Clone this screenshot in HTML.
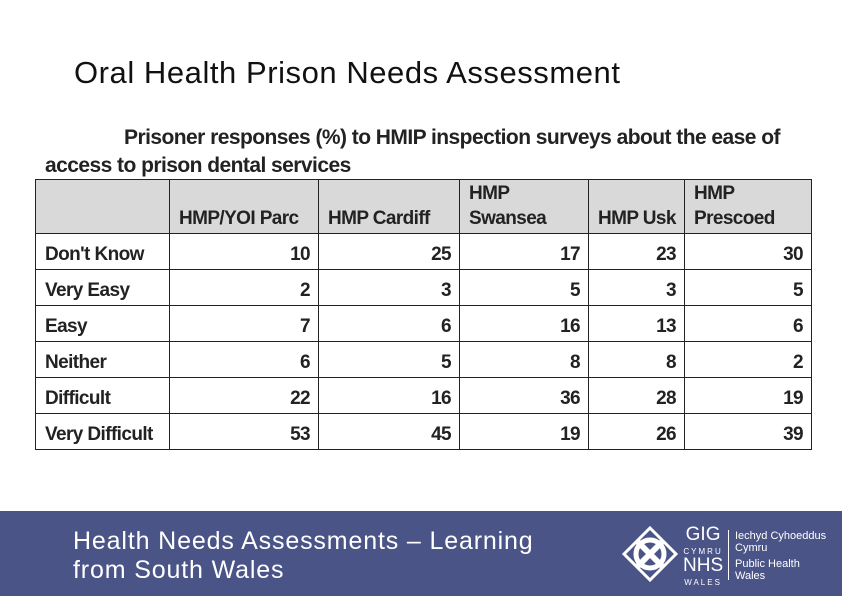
<!DOCTYPE html>
<html><head><meta charset="utf-8"><style>
body{margin:0;width:842px;height:596px;position:relative;background:#fff;overflow:hidden;font-family:"Liberation Sans",sans-serif}
.t{position:absolute;white-space:nowrap}
.cell{position:absolute;box-sizing:border-box;font-weight:bold;font-size:19px;color:#222;letter-spacing:-0.6px}
</style></head><body>
<div class="t" style="left:74px;top:55px;font-size:31px;color:#111;letter-spacing:0.55px">Oral Health Prison Needs Assessment</div>
<div class="t" style="left:45px;top:124px;font-size:21px;font-weight:bold;color:#222;line-height:28px;letter-spacing:-0.55px"><span style="padding-left:79px">Prisoner responses (%) to HMIP inspection surveys about the ease of</span><br>access to prison dental services</div>
<div id="tbl" style="position:absolute;left:0;top:0"></div>
<div style="position:absolute;left:0;top:511px;width:842px;height:85px;background:#4a5487"></div>
<div class="t" style="left:73px;top:527px;font-size:25px;color:#fff;line-height:29px;letter-spacing:0.85px">Health Needs Assessments – Learning<br>from South Wales</div>
<svg style="position:absolute;left:622px;top:526px" width="56" height="56" viewBox="0 0 56 56"><g fill="none" stroke="#fff" stroke-width="5"><circle cx="28" cy="28" r="14"/><path d="M28 2 L40 14 L28 26 L16 14Z M54 28 L42 40 L30 28 L42 16Z M28 54 L16 42 L28 30 L40 42Z M2 28 L14 16 L26 28 L14 40Z" stroke-width="3"/></g></svg>
<div class="t" style="left:683px;top:528px;color:#fff;font-size:19px;line-height:14px;text-align:center">GIG<br><span style="font-size:8px;letter-spacing:2px">CYMRU</span><br>NHS<br><span style="font-size:8px;letter-spacing:2px">WALES</span></div>
<div style="position:absolute;left:728px;top:530px;width:1px;height:50px;background:#fff"></div>
<div class="t" style="left:735px;top:530px;color:#fff;font-size:11px;line-height:12px">Iechyd Cyhoeddus<br>Cymru<br><span style="display:inline-block;margin-top:4px">Public Health</span><br>Wales</div>
<script>
const columns=["HMP/YOI Parc","HMP Cardiff","HMP\nSwansea","HMP Usk","HMP\nPrescoed"];
const categories=["Don't Know","Very Easy","Easy","Neither","Difficult","Very Difficult"];
const parc=[10,2,7,6,22,53];
const cardiff=[25,3,6,5,16,45];
const swansea=[17,5,16,8,36,19];
const usk=[23,3,13,8,28,26];
const prescoed=[30,5,6,2,19,39];
const series=[parc,cardiff,swansea,usk,prescoed];
const xs=[35,169,318,459,588,684,811];
const tTop=179,headH=54,rowH=36;
const tbl=document.getElementById('tbl');
function cell(x,y,w,h,txt,opts){
  const d=document.createElement('div');d.className='cell';
  d.style.left=x+'px';d.style.top=y+'px';d.style.width=w+'px';d.style.height=h+'px';
  d.style.borderLeft='1px solid #222';d.style.borderTop='1px solid #222';
  Object.assign(d.style,opts||{});
  d.textContent=txt;tbl.appendChild(d);return d;
}
const h0=cell(xs[0],tTop,xs[1]-xs[0],headH,'',{background:'#d9d9d9'});


columns.forEach((c,i)=>{
  const d=cell(xs[i+1],tTop,xs[i+2]-xs[i+1],headH,c,{background:'#d9d9d9',whiteSpace:'pre',display:'flex',alignItems:'flex-end',padding:'0 0 2px 9px',lineHeight:'25px'});
  
  
});
categories.forEach((cat,r)=>{
  const y=tTop+headH+r*rowH;
  const l=cell(xs[0],y,xs[1]-xs[0],rowH,cat,{padding:'10px 0 0 9px'});
  
  
  series.forEach((s,i)=>{
    const d=cell(xs[i+1],y,xs[i+2]-xs[i+1],rowH,String(s[r]),{textAlign:'right',padding:'10px 8px 0 0'});
    
    
  });
});
const rb=document.createElement('div');
rb.style.cssText='position:absolute;left:'+xs[6]+'px;top:'+tTop+'px;width:1px;height:'+(headH+6*rowH)+'px;background:#222';


tbl.appendChild(rb);
const bb=document.createElement('div');
bb.style.cssText='position:absolute;left:'+xs[0]+'px;top:'+(tTop+headH+6*rowH)+'px;width:'+(xs[6]-xs[0]+1)+'px;height:1px;background:#222';


tbl.appendChild(bb);
</script>
</body></html>
